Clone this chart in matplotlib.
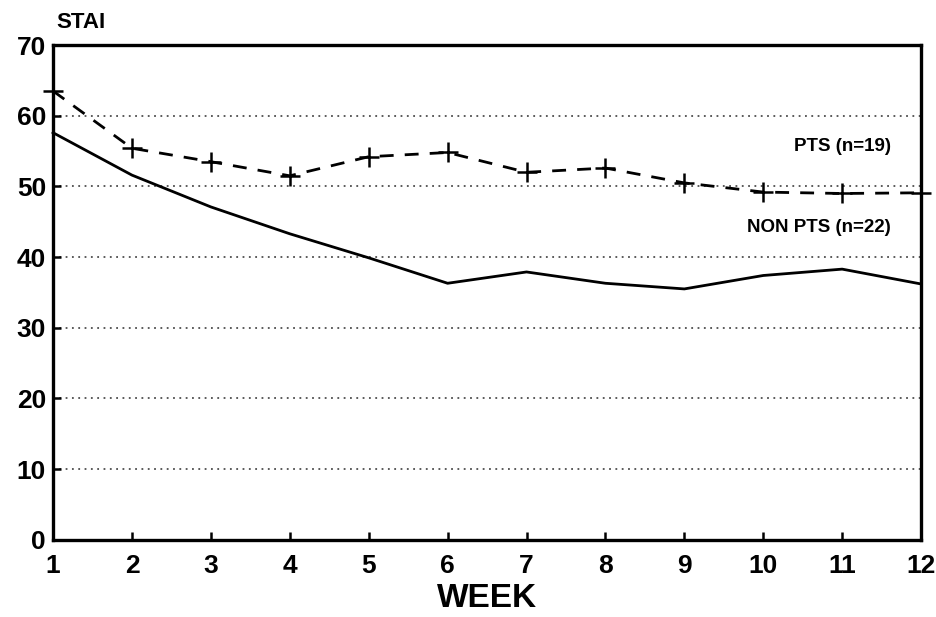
import numpy as np
import matplotlib.pyplot as plt

# STAI scores by week
weeks = np.arange(1, 13)
pts = [63.5, 55.4, 53.5, 51.5, 54.2, 54.8, 52.0, 52.6, 50.5, 49.2, 49.0, 49.1]
non_pts = [57.6, 51.6, 47.1, 43.3, 39.9, 36.3, 37.9, 36.3, 35.5, 37.4, 38.3, 36.2]
yticks = [0, 10, 20, 30, 40, 50, 60, 70]

plt.rcParams['font.family'] = ['Liberation Sans', 'DejaVu Sans']
plt.rcParams['font.weight'] = 'bold'

fig = plt.figure(figsize=(9.37, 6.17), dpi=100)
ax = fig.add_axes([0.0566, 0.125, 0.9264, 0.802])

# faint dotted gridlines like the photocopy
for yv in yticks[1:-1]:
    ax.axhline(yv, color='0.3', lw=1.3, ls=(0, (1, 2.5)), zorder=1)

ax.plot(weeks, pts, color='black', lw=2, ls=(0, (5, 4)), marker='+',
        markersize=15, mew=1.8, clip_on=False, zorder=3)
ax.plot(weeks, non_pts, color='black', lw=2, zorder=3, clip_on=False)

ax.text(11.62, 55.7, 'PTS (n=19)', ha='right', va='center', fontsize=13.5, fontweight='bold')
ax.text(11.62, 44.2, 'NON PTS (n=22)', ha='right', va='center', fontsize=13.5, fontweight='bold')

ax.set_xlim(1, 12)
ax.set_ylim(0, 70)
ax.set_xticks(weeks)
ax.set_yticks(yticks)
ax.tick_params(axis='both', direction='in', length=6, width=1.8, labelsize=19)
ax.tick_params(axis='x', pad=10)
ax.tick_params(axis='y', pad=5)
for lab in ax.get_xticklabels() + ax.get_yticklabels():
    lab.set_fontweight('bold')
for sp in ax.spines.values():
    sp.set_linewidth(2.4)

ax.set_xlabel('WEEK', fontsize=24, fontweight='bold', labelpad=4)
fig.text(0.06, 0.963, 'STAI', fontsize=16, fontweight='bold', ha='left', va='center')

fig.savefig('out.png', dpi=100)
